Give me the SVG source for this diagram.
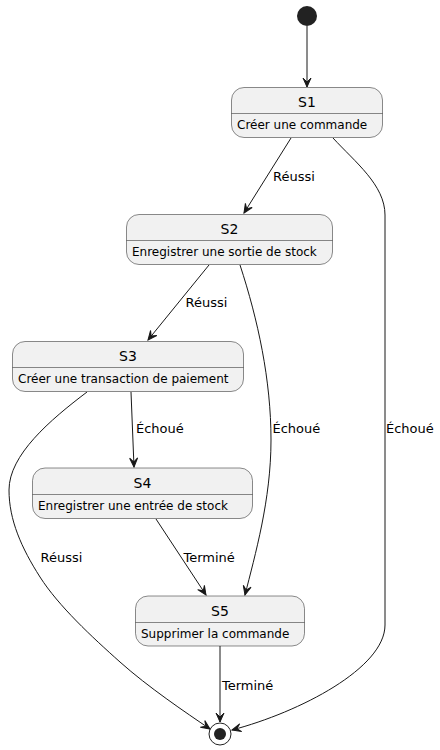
<svg xmlns="http://www.w3.org/2000/svg" width="440" height="750" viewBox="0 0 440 750">
<style>
.box{fill:#F1F1F1;stroke:#181818;stroke-width:0.5}
.div{stroke:#181818;stroke-width:0.5}
.title{font-family:"DejaVu Sans",sans-serif;font-size:14px;fill:#000;text-anchor:middle}
.body{font-family:"DejaVu Sans",sans-serif;font-size:12px;fill:#000}
.lbl{font-family:"DejaVu Sans",sans-serif;font-size:13px;fill:#000}
.edge{fill:none;stroke:#181818;stroke-width:1;marker-end:url(#arr)}
</style>
<defs>
<marker id="arr" markerUnits="userSpaceOnUse" markerWidth="12" markerHeight="10" viewBox="-10 -5 12 10" refX="0" refY="0" orient="auto">
<path d="M0,0 L-9,-4 L-5,0 L-9,4 Z" fill="#181818" stroke="#181818" stroke-width="1"/>
</marker>
</defs>
<g id="connectors">
<path class="edge" d="M307,26 L307,87"/>
<path class="edge" d="M291,138 L244,213"/>
<path class="edge" d="M333,138 C355,162 385,185 385,215 L385,625 C385,668 300,712 232,730"/>
<path class="edge" d="M209,265 L148,340"/>
<path class="edge" d="M240,265 C258,320 271,380 271,440 C271,500 255,555 245,595"/>
<path class="edge" d="M131,392 L134,467"/>
<path class="edge" d="M87,392 C50,420 9,455 9,490 C9,520 21.5,548 40,577 C58.5,606 92,637 120,662 C148,687 185,712 210,729"/>
<path class="edge" d="M156,519 L206,595"/>
<path class="edge" d="M220,646 L220,722"/>
<text class="lbl" x="273" y="181">Réussi</text>
<text class="lbl" x="386" y="433">Échoué</text>
<text class="lbl" x="185.5" y="307">Réussi</text>
<text class="lbl" x="272.5" y="433">Échoué</text>
<text class="lbl" x="136" y="433">Échoué</text>
<text class="lbl" x="40.5" y="561.5">Réussi</text>
<text class="lbl" x="183.5" y="561.5">Terminé</text>
<text class="lbl" x="222" y="689.5">Terminé</text>
</g>
<g id="start"><circle cx="307" cy="16" r="10" fill="#222"/></g>
<g id="S1">
<rect class="box" x="231.5" y="87.5" width="151" height="50" rx="12.5"/>
<line class="div" x1="231.5" y1="113.5" x2="382.5" y2="113.5"/>
<text class="title" x="307" y="107">S1</text>
<text class="body" x="237" y="129">Créer une commande</text>
</g>
<g id="S2">
<rect class="box" x="126.5" y="214.5" width="206" height="50" rx="12.5"/>
<line class="div" x1="126.5" y1="240.5" x2="332.5" y2="240.5"/>
<text class="title" x="229.5" y="234">S2</text>
<text class="body" x="132" y="256">Enregistrer une sortie de stock</text>
</g>
<g id="S3">
<rect class="box" x="12.5" y="341.5" width="231" height="50" rx="12.5"/>
<line class="div" x1="12.5" y1="367.5" x2="243.5" y2="367.5"/>
<text class="title" x="128" y="361">S3</text>
<text class="body" x="18" y="383">Créer une transaction de paiement</text>
</g>
<g id="S4">
<rect class="box" x="32.5" y="468" width="220" height="50.5" rx="12.5"/>
<line class="div" x1="32.5" y1="494.5" x2="252.5" y2="494.5"/>
<text class="title" x="142.5" y="488">S4</text>
<text class="body" x="38" y="510">Enregistrer une entrée de stock</text>
</g>
<g id="S5">
<rect class="box" x="135.5" y="596" width="169" height="50" rx="12.5"/>
<line class="div" x1="135.5" y1="622.5" x2="304.5" y2="622.5"/>
<text class="title" x="220" y="615.5">S5</text>
<text class="body" x="141" y="637.5">Supprimer la commande</text>
</g>
<g id="end">
<circle cx="220" cy="734" r="11" fill="none" stroke="#222" stroke-width="1"/>
<circle cx="220" cy="734" r="6" fill="#222"/>
</g>
</svg>
